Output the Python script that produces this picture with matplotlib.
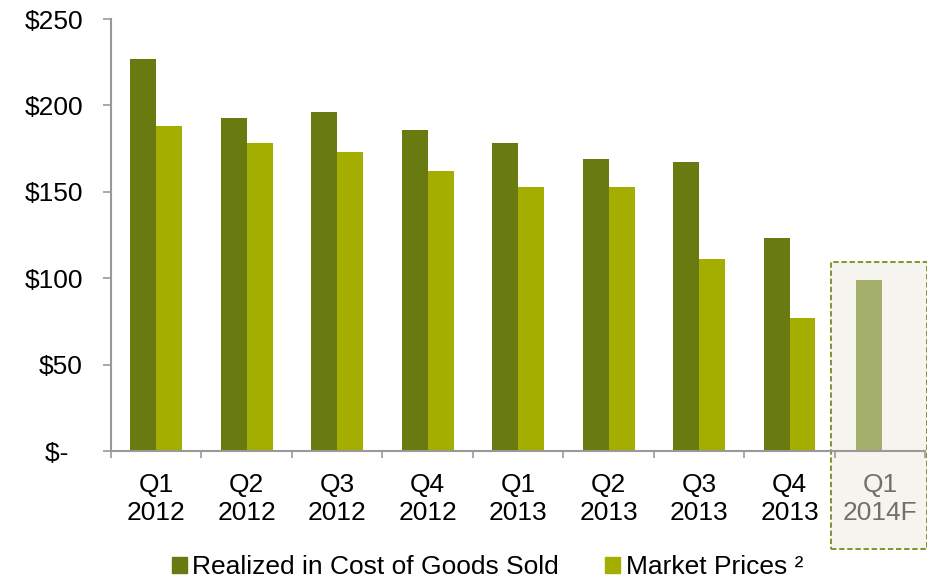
import numpy as np
import matplotlib.pyplot as plt
from matplotlib.patches import Rectangle, Patch

plt.rcParams['font.family'] = ['Liberation Sans', 'DejaVu Sans']

quarters = ['Q1\n2012', 'Q2\n2012', 'Q3\n2012', 'Q4\n2012', 'Q1\n2013',
            'Q2\n2013', 'Q3\n2013', 'Q4\n2013', 'Q1\n2014F']
realized = [227, 193, 196, 186, 178, 169, 167, 123]
market = [188, 178, 173, 162, 153, 153, 111, 77]
forecast = 99
y_ticks = [0, 50, 100, 150, 200, 250]
y_labels = ['$-  ', '$50', '$100', '$150', '$200', '$250']

dark = '#687a10'
light = '#a4ae00'
fc_col = '#a5af6c'
gray = '#999999'

fig = plt.figure(figsize=(9.28, 5.78), dpi=100)
ax = fig.add_axes([0.1196, 0.2197, 0.8774, 0.7473])

w = 0.287
x = np.arange(len(realized))
ax.bar(x - w / 2, realized, w, color=dark, zorder=3)
ax.bar(x + w / 2, market, w, color=light, zorder=3)

# forecast box + bar
box = Rectangle((7.46, -56.7), 1.06, 166.1, facecolor='#f5f4ef', edgecolor='#7a8c1e',
                linestyle=(0, (3, 1.5)), linewidth=1.3, clip_on=False, zorder=1)
ax.add_patch(box)
ax.bar(8 - w / 2 + 0.02, forecast, w, color=fc_col, zorder=3)

ax.set_xlim(-0.5, 8.5)
ax.set_ylim(0, 250)
ax.set_yticks(y_ticks)
ax.set_yticklabels(y_labels, fontsize=19)
ax.set_xticks(np.arange(len(quarters)))
ax.set_xticklabels(quarters, fontsize=19, linespacing=1.2)
ax.get_xticklabels()[-1].set_color('#707070')
ax.tick_params(axis='x', length=0, pad=16)
ax.tick_params(axis='y', length=5.8, color=gray, width=1.2, pad=14.3)
# boundary ticks between categories
ax.set_xticks(np.arange(-0.5, 9.0, 1.0), minor=True)
ax.tick_params(axis='x', which='minor', length=5, color=gray, width=1.2)

for s in ['top', 'right']:
    ax.spines[s].set_visible(False)
for s in ['left', 'bottom']:
    ax.spines[s].set_color(gray)
    ax.spines[s].set_linewidth(1.5)
ax.spines['bottom'].set_zorder(4)
ax.patch.set_visible(False)

handles = [Patch(color=dark), Patch(color=light)]
fig.legend(handles, ['Realized in Cost of Goods Sold', 'Market Prices \u00b2'],
           loc='center left', bbox_to_anchor=(172 / 928, 1 - 567 / 578), ncol=2,
           frameon=False, borderpad=0, borderaxespad=0,
           fontsize=19, handlelength=0.55, handleheight=0.55, handletextpad=0.22,
           columnspacing=1.75)

fig.savefig('out.png', dpi=100)
